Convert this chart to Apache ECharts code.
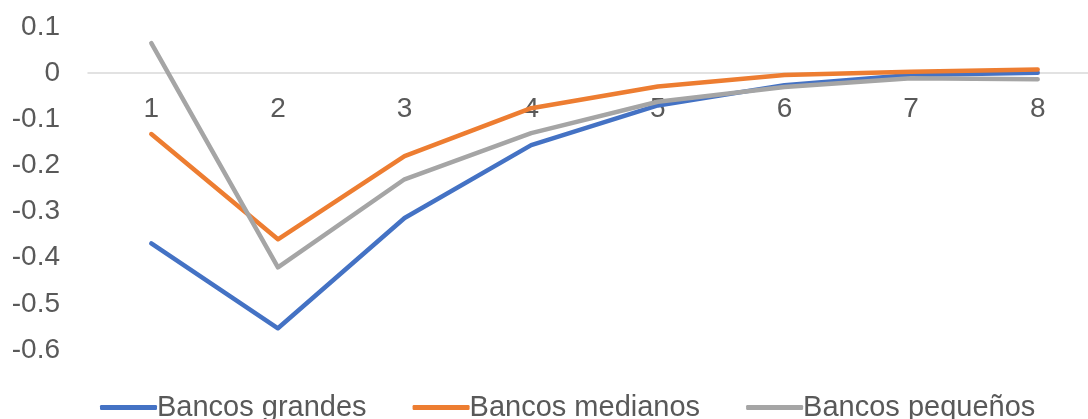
<!DOCTYPE html>
<html>
<head>
<meta charset="utf-8">
<script src="https://cdn.jsdelivr.net/npm/echarts@6/dist/echarts.min.js"></script>
<style>
  html, body { margin: 0; padding: 0; background: #fff; }
  #chart { width: 1088px; height: 419px; }
</style>
</head>
<body>
<div id="chart"></div>
<script>
// Periods after the shock
const periods = ['1', '2', '3', '4', '5', '6', '7', '8'];

// Responses by bank size
const bancosGrandes = [-0.369, -0.553, -0.314, -0.156, -0.070, -0.026, -0.004, 0.001];
const bancosMedianos = [-0.132, -0.360, -0.180, -0.076, -0.029, -0.004, 0.003, 0.008];
const bancosPequenos = [0.065, -0.421, -0.230, -0.130, -0.062, -0.030, -0.011, -0.013];

// Value axis range
const yMin = -0.6;
const yMax = 0.1;
const yStep = 0.1;

const seriesNames = ['Bancos grandes', 'Bancos medianos', 'Bancos pequeños'];
const seriesColors = ['#4472C4', '#ED7D31', '#A5A5A5'];

const textColor = '#595959';
const fontFamily = 'Liberation Sans, Arial, sans-serif';

// Plot area
const gridTop = 27;
const gridHeight = 323;
// Category axis sits on the zero line: shift it up from the bottom edge
const zeroOffset = -gridHeight * (0 - yMin) / (yMax - yMin);

const chart = echarts.init(document.getElementById('chart'), null, { renderer: 'canvas' });

const makeLine = (name, data, color) => ({
  name,
  type: 'line',
  data,
  symbol: 'none',
  smooth: false,
  lineStyle: { color, width: 4.5, cap: 'round', join: 'round' },
  itemStyle: { color },
  z: 3
});

chart.setOption({
  animation: false,
  color: seriesColors,
  grid: {
    left: 88, top: gridTop, height: gridHeight, width: 1013,
    containLabel: false,
    outerBoundsMode: 'none'
  },
  legend: {
    left: 95,
    top: 388,
    itemWidth: 57,
    itemHeight: 5,
    itemGap: 46,
    icon: 'roundRect',
    textStyle: { color: textColor, fontSize: 29, fontFamily, padding: [0, 0, 0, -5] },
    data: seriesNames
  },
  xAxis: {
    type: 'category',
    data: periods,
    boundaryGap: true,
    position: 'bottom',
    offset: zeroOffset,
    axisLine: { show: true, onZero: false, lineStyle: { color: '#D9D9D9', width: 1.5 } },
    axisTick: { show: false },
    axisLabel: { color: textColor, fontSize: 28, fontFamily, margin: 22 },
    splitLine: { show: false }
  },
  yAxis: {
    type: 'value',
    min: yMin,
    max: yMax,
    interval: yStep,
    axisLine: { show: false },
    axisTick: { show: false },
    splitLine: { show: false },
    axisLabel: {
      color: textColor,
      fontSize: 28,
      fontFamily,
      margin: 28,
      formatter: v => String(+v.toFixed(1))
    }
  },
  series: [
    makeLine(seriesNames[0], bancosGrandes, seriesColors[0]),
    makeLine(seriesNames[1], bancosMedianos, seriesColors[1]),
    makeLine(seriesNames[2], bancosPequenos, seriesColors[2])
  ]
});
</script>
</body>
</html>
